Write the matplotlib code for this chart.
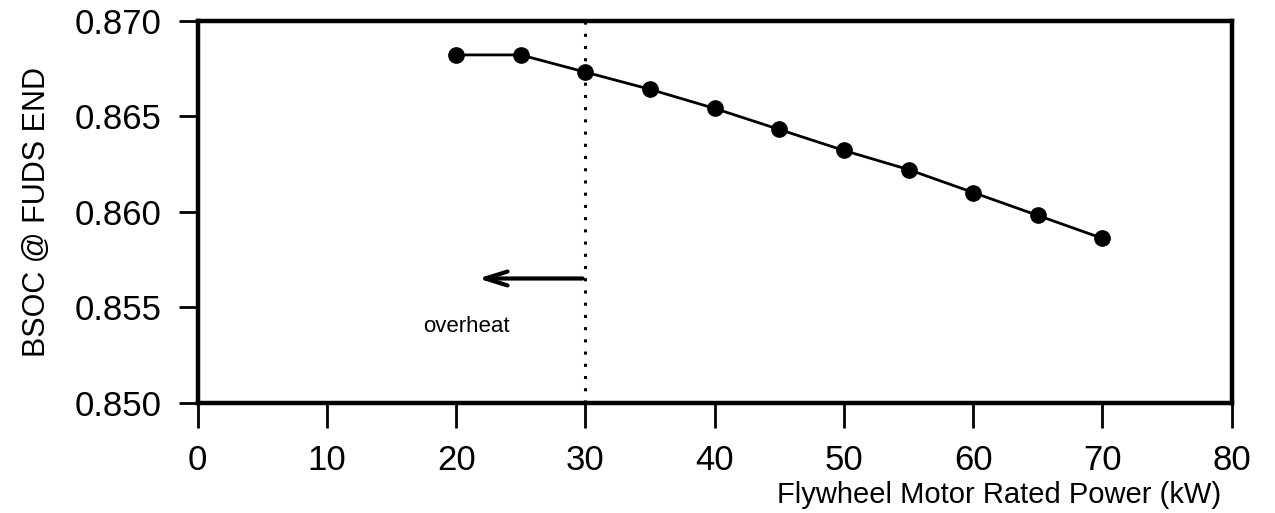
import matplotlib.pyplot as plt

# ---- data ----
power_kw = [20, 25, 30, 35, 40, 45, 50, 55, 60, 65, 70]
bsoc_end = [0.8682, 0.8682, 0.8673, 0.8664, 0.8654, 0.8643, 0.8632,
            0.8622, 0.8610, 0.8598, 0.8586]
x_ticks = [0, 10, 20, 30, 40, 50, 60, 70, 80]
y_ticks = [0.850, 0.855, 0.860, 0.865, 0.870]
overheat_limit = 30

plt.rcParams['font.family'] = ['Liberation Sans', 'DejaVu Sans']

fig = plt.figure(figsize=(12.75, 5.13), dpi=100)
ax = fig.add_axes([0.155, 0.215, 0.811, 0.745])

ax.plot(power_kw, bsoc_end, color='black', linewidth=2,
        marker='o', markersize=11)

# overheat limit + arrow
ax.axvline(overheat_limit, color='black', linestyle=(0, (1, 3)), linewidth=2.2)
ax.annotate('', xy=(21.5, 0.8565), xytext=(overheat_limit, 0.8565),
            arrowprops=dict(arrowstyle='->,head_length=1.6,head_width=0.5',
                            color='black', lw=3))
ax.text(20.8, 0.8540, 'overheat', fontsize=16, ha='center', va='center')

ax.set_xlim(0, 80)
ax.set_ylim(0.850, 0.870)
ax.set_xticks(x_ticks)
ax.set_yticks(y_ticks)
ax.set_yticklabels([f'{v:.3f}' for v in y_ticks])

for s in ax.spines.values():
    s.set_linewidth(3.2)

ax.tick_params(axis='x', direction='out', length=18, width=2, pad=12,
               labelsize=25)
ax.tick_params(axis='y', direction='out', length=14, width=2, pad=12,
               labelsize=25)

ax.set_ylabel('BSOC @ FUDS END', fontsize=22, labelpad=16)
ax.set_xlabel('Flywheel Motor Rated Power (kW)', fontsize=21)
ax.xaxis.set_label_coords(0.99, -0.205, transform=ax.transAxes)
ax.xaxis.label.set_ha('right')

fig.savefig('out.png', dpi=100, facecolor='white')
